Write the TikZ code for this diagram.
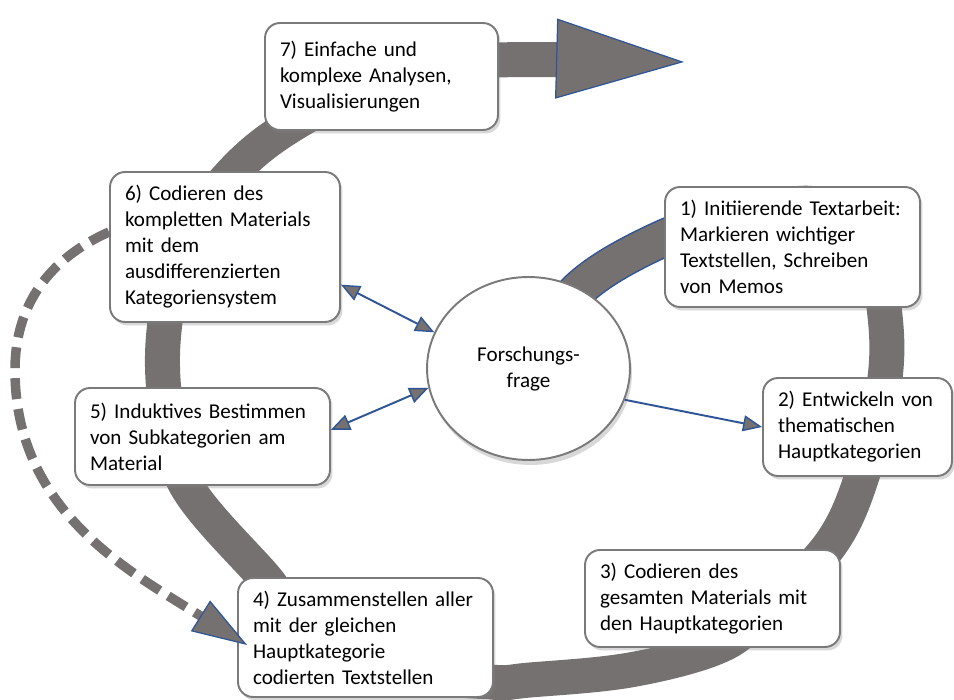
\documentclass[tikz,border=0pt]{standalone}
\usepackage{fontspec}
\setmainfont{Carlito}
\usetikzlibrary{arrows.meta,shapes.geometric,shadows}

\definecolor{bandgray}{HTML}{767171}
\definecolor{boxgray}{HTML}{7A7A7A}
\definecolor{linkblue}{HTML}{2F5597}

\tikzset{
    stage/.style={draw=boxgray, line width=1.1pt, fill=white, rounded corners=0.3cm,
        inner xsep=0.3cm, inner ysep=0.1cm, align=left,
        font=\fontsize{12}{14.8}\selectfont,
        drop shadow={shadow xshift=0.05cm, shadow yshift=-0.07cm, opacity=0.3}},
    focus/.style={draw=boxgray, line width=1.1pt, fill=white, ellipse, align=center,
        font=\fontsize{12}{14.8}\selectfont,
        drop shadow={shadow xshift=0.04cm, shadow yshift=-0.1cm, opacity=0.3}},
    band/.style={draw=bandgray, line width=0.7cm},
    link/.style={draw=linkblue, line width=1.1pt},
    backlink/.style={draw=bandgray, line width=0.19cm, dash pattern=on 0.42cm off 0.2cm},
    gtip/.tip={Triangle[length=0.38cm, width=0.32cm, color=linkblue, fill=bandgray, line width=0.8pt]}
}

\begin{document}
\begin{tikzpicture}[x=0.02cm, y=0.02cm]
    % Canvas of 954 x 700
    \path[use as bounding box, fill=white] (0,0) rectangle (954,700);

    % Draw the spiral band (blue rim at its start)
    \draw[linkblue, line width=0.76cm] plot[smooth, tension=0.6] coordinates {(528,332) (578,410) (664,462) (740,484)};
    \draw[band, -{Triangle[length=2.56cm, width=1.6cm, color=linkblue, fill=bandgray, line width=0.7pt]}]
        plot[smooth, tension=0.6] coordinates {
        (528,332) (578,410) (664,462) (740,484) (815,496) (868,462) (884,393) (885,322)
        (864,230) (830,155) (760,85) (717,53) (630,30) (530,20) (490,18) (400,30)
        (300,80) (265,122) (186,215) (165,300) (165,378) (185,460) (235,530) (300,580)
        (400,628) (498,640) (684,638)};

    % Draw the central question
    \node[focus, minimum width=4.06cm, minimum height=3.66cm] (circ) at (528.5,331.5) {Forschungs-\\frage};

    % Draw the steps
    \node[stage, text width=4.5cm, minimum height=2.4cm] (b1) at (792.5,453) {1) Initiierende Textarbeit:\\Markieren wichtiger\\Textstellen, Schreiben\\von Memos};
    \node[stage, text width=3.18cm, minimum height=1.96cm] (b2) at (857.5,273) {2) Entwickeln von\\thematischen\\Hauptkategorien};
    \node[stage, text width=4.5cm, minimum height=1.94cm] (b3) at (712.5,101.5) {3) Codieren des\\gesamten Materials mit\\den Hauptkategorien};
    \node[stage, text width=4.5cm, minimum height=2.38cm] (b4) at (365.5,62.5) {4) Zusammenstellen aller\\mit der gleichen\\Hauptkategorie\\codierten Textstellen};
    \node[stage, text width=4.5cm, minimum height=1.94cm] (b5) at (202.5,263.5) {5) Induktives Bestimmen\\von Subkategorien am\\Material};
    \node[stage, text width=4.0cm, minimum height=3.0cm] (b6) at (225,453) {6) Codieren des\\kompletten Materials\\mit dem\\ausdifferenzierten\\Kategoriensystem};
    \node[stage, text width=4.06cm, minimum height=2.14cm] (b7) at (381.5,623.5) {7) Einfache und\\komplexe Analysen,\\Visualisierungen};

    % Draw the links to the question
    \draw[link, gtip-gtip] (b6.-18) -- (circ.159);
    \draw[link, gtip-gtip] (b5.3) -- (circ.191);
    \draw[link, -gtip] (circ.-18) -- (b2.west);

    % Draw the dashed way back
    \draw[backlink, -{Triangle[length=1.1cm, width=0.72cm, color=linkblue, fill=bandgray, line width=0.7pt]}]
        ([yshift=0.3cm]b6.west) to[out=204, in=90] (15,330) to[out=-90, in=148] ([xshift=0.2cm, yshift=-0.15cm]b4.west);
\end{tikzpicture}
\end{document}
